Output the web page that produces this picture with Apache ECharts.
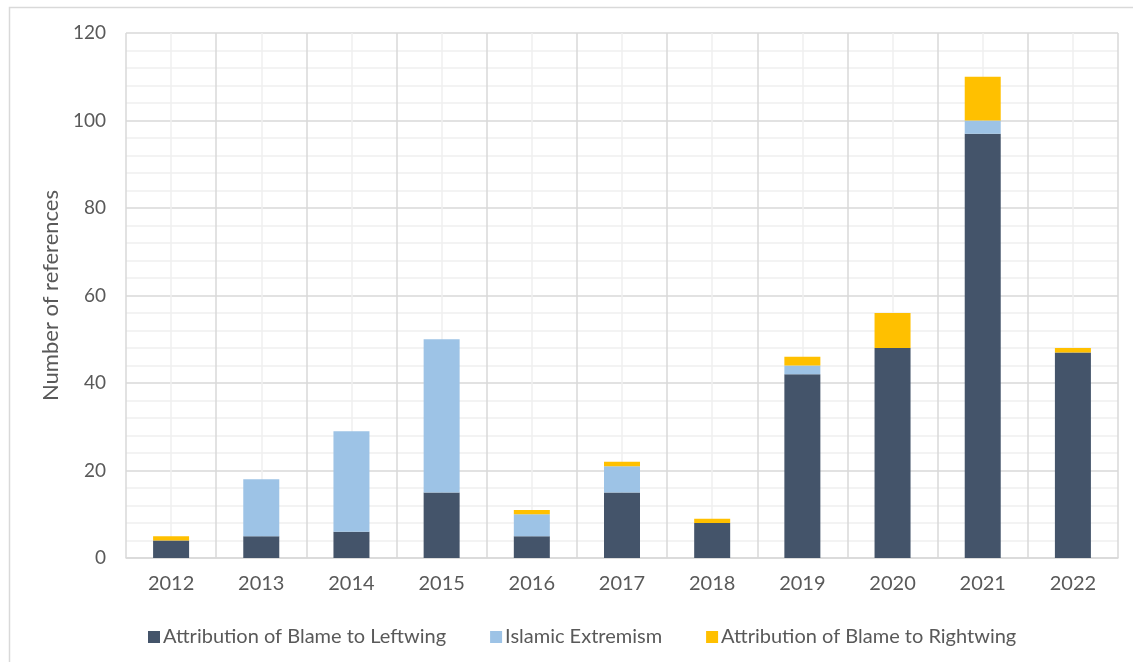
<!DOCTYPE html>
<html>
<head>
<meta charset="utf-8">
<script src="https://cdn.jsdelivr.net/npm/echarts@6/dist/echarts.min.js"></script>
<style>
  html, body { margin: 0; padding: 0; background: #ffffff; }
  #chart { width: 1133px; height: 662px; }
</style>
</head>
<body>
<div id="chart"></div>
<script>
// Yearly counts of references, stacked by attribution type
const years = ['2012', '2013', '2014', '2015', '2016', '2017', '2018', '2019', '2020', '2021', '2022'];
const blameLeftwing = [4, 5, 6, 15, 5, 15, 8, 42, 48, 97, 47];
const islamicExtremism = [0, 13, 23, 35, 5, 6, 0, 2, 0, 3, 0];
const blameRightwing = [1, 0, 0, 0, 1, 1, 1, 2, 8, 10, 1];
const seriesNames = ['Attribution of Blame to Leftwing', 'Islamic Extremism', 'Attribution of Blame to Rightwing'];
const seriesColors = ['#44546A', '#9DC3E6', '#FFC000'];

const FONT = 'Lato';
const TEXT = '#595959';
const MAJOR = '#d9d9d9';
const MINOR = '#efefef';

const chart = echarts.init(document.getElementById('chart'), null, { renderer: 'canvas' });

const mkSeries = (i, values) => ({
  name: seriesNames[i],
  type: 'bar',
  stack: 'refs',
  barWidth: 36,
  data: values,
  itemStyle: { color: seriesColors[i] },
  emphasis: { disabled: true }
});

chart.setOption({
  animation: false,
  textStyle: { fontFamily: FONT },
  graphic: [{
    type: 'rect',
    shape: { x: 9.5, y: 7.5, width: 1200, height: 700 },
    style: { fill: 'none', stroke: '#d9d9d9', lineWidth: 1.5 },
    silent: true,
    z: -10
  }],
  grid: { left: 126, right: 15, top: 33, bottom: 104, containLabel: false },
  legend: {
    left: 143,
    top: 622,
    itemWidth: 12,
    itemHeight: 12,
    itemGap: 44,
    icon: 'rect',
    textStyle: { fontFamily: FONT, fontSize: 20, color: TEXT, padding: [0, 0, 0, -2] },
    data: seriesNames
  },
  xAxis: [{
    type: 'category',
    data: years,
    axisLine: { show: true, lineStyle: { color: MAJOR, width: 1.5 } },
    axisTick: { show: false },
    splitLine: { show: false },
    axisLabel: { fontFamily: FONT, fontSize: 20, color: TEXT, margin: 16 }
  }, {
    // helper axis that draws the vertical grid: boundaries between years and year centres
    type: 'value',
    min: 0,
    max: 11,
    interval: 1,
    position: 'bottom',
    axisLine: { show: false },
    axisTick: { show: false },
    axisLabel: { show: false },
    splitLine: { show: true, lineStyle: { color: MAJOR, width: 1.5 } },
    minorTick: { show: false, splitNumber: 2 },
    minorSplitLine: { show: true, lineStyle: { color: MINOR, width: 1.5 } }
  }],
  yAxis: {
    type: 'value',
    min: 0,
    max: 120,
    interval: 20,
    name: 'Number of references',
    nameLocation: 'middle',
    nameGap: 60,
    nameRotate: 90,
    nameTextStyle: { fontFamily: FONT, fontSize: 22, color: TEXT },
    axisLine: { show: false },
    axisTick: { show: false },
    axisLabel: { fontFamily: FONT, fontSize: 19, color: TEXT, margin: 20 },
    splitLine: { show: true, lineStyle: { color: MAJOR, width: 1.5 } },
    minorTick: { show: false, splitNumber: 5 },
    minorSplitLine: { show: true, lineStyle: { color: MINOR, width: 1.5 } }
  },
  series: [
    mkSeries(0, blameLeftwing),
    mkSeries(1, islamicExtremism),
    mkSeries(2, blameRightwing)
  ]
});
</script>
</body>
</html>
